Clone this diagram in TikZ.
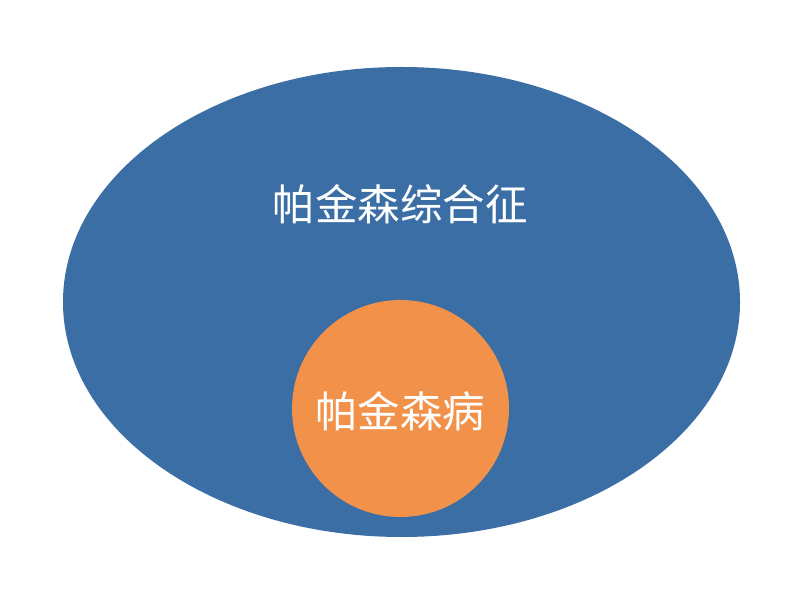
\documentclass[tikz,border=0pt]{standalone}
\usepackage{fontspec}
\newfontfamily\cjk{Noto Sans CJK SC}
\definecolor{outerblue}{HTML}{3A6EA5}
\definecolor{innerorange}{HTML}{F2914A}
\begin{document}
\begin{tikzpicture}[x=1pt,y=1pt,
  lbl/.style={text=white,font=\cjk\fontsize{42.5}{50}\selectfont,inner sep=0pt}]
\useasboundingbox (0,0) rectangle (800,600);
\fill[white] (0,0) rectangle (800,600);
\fill[outerblue] (401.5,298) ellipse [x radius=338.5, y radius=235];
\fill[innerorange] (400.5,191.5) circle [radius=108.5];
\node[lbl] (outer) at (400,396) {帕金森综合征};
\node[lbl] (inner) at (400,189) {帕金森病};
\end{tikzpicture}
\end{document}
